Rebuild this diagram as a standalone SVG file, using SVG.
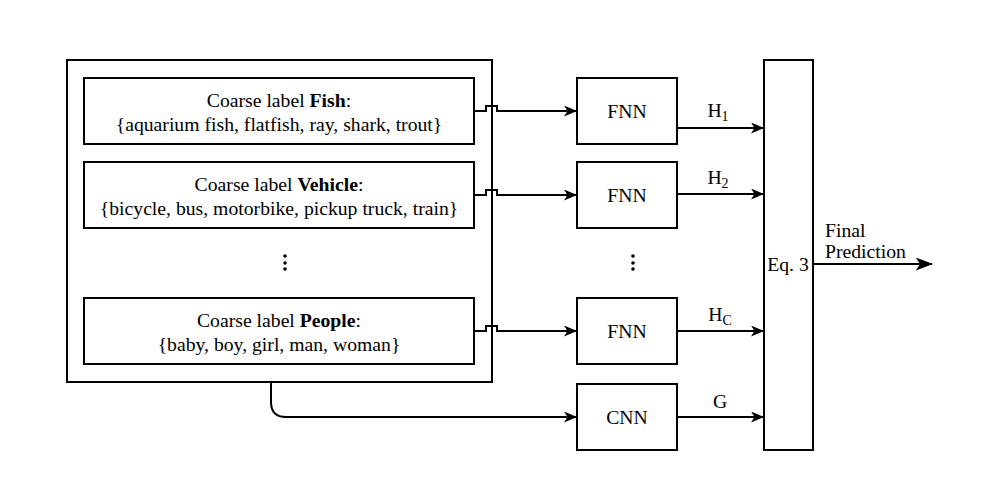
<svg xmlns="http://www.w3.org/2000/svg" width="987" height="491" viewBox="0 0 987 491">
<defs>
<style>
.box{fill:#fff;stroke:#000;stroke-width:2}
.t{font-family:"Liberation Serif","Times New Roman",serif;font-size:19.7px;fill:#000;text-anchor:middle}
.s{text-anchor:start}
.ln{fill:none;stroke:#000;stroke-width:2}
.dot{fill:#000}
</style>
<marker id="ah" viewBox="0 0 13 11" refX="12" refY="5.5" markerWidth="13" markerHeight="11" markerUnits="userSpaceOnUse" orient="auto">
<path d="M0,0 L13,5.5 L0,11 L3.5,5.5 Z" fill="#000"/>
</marker>
<marker id="ahb" viewBox="0 0 16 12" refX="15" refY="6" markerWidth="18" markerHeight="13" markerUnits="userSpaceOnUse" orient="auto">
<path d="M0,0 L16,6 L0,12 L4,6 Z" fill="#000"/>
</marker>
</defs>
<rect width="987" height="491" fill="#fff"/>
<g id="outer"><rect class="box" x="67" y="60" width="425" height="322"/></g>
<g id="fish"><rect class="box" x="84" y="78" width="390" height="66"/>
<text class="t" x="279" y="107">Coarse label <tspan font-weight="bold">Fish</tspan>:</text>
<text class="t" x="279" y="131">{aquarium fish, flatfish, ray, shark, trout}</text></g>
<g id="vehicle"><rect class="box" x="84" y="162" width="390" height="66"/>
<text class="t" x="279" y="191">Coarse label <tspan font-weight="bold">Vehicle</tspan>:</text>
<text class="t" x="279" y="215">{bicycle, bus, motorbike, pickup truck, train}</text></g>
<g id="dots1"><circle class="dot" cx="285" cy="256" r="1.8"/><circle class="dot" cx="285" cy="263" r="1.8"/><circle class="dot" cx="285" cy="269" r="1.8"/></g>
<g id="people"><rect class="box" x="84" y="298" width="390" height="66"/>
<text class="t" x="279" y="327">Coarse label <tspan font-weight="bold">People</tspan>:</text>
<text class="t" x="279" y="351">{baby, boy, girl, man, woman}</text></g>
<g id="fnn1"><rect class="box" x="577" y="78" width="100" height="66"/><text class="t" x="627" y="118">FNN</text></g>
<g id="fnn2"><rect class="box" x="577" y="162" width="100" height="66"/><text class="t" x="627" y="202">FNN</text></g>
<g id="dots2"><circle class="dot" cx="633" cy="256" r="1.8"/><circle class="dot" cx="633" cy="263" r="1.8"/><circle class="dot" cx="633" cy="269" r="1.8"/></g>
<g id="fnnc"><rect class="box" x="577" y="298" width="100" height="66"/><text class="t" x="627" y="338">FNN</text></g>
<g id="cnn"><rect class="box" x="577" y="384" width="100" height="66"/><text class="t" x="627" y="424">CNN</text></g>
<g id="eq3"><rect class="box" x="764" y="60" width="49" height="390"/><text class="t" x="788" y="271">Eq. 3</text></g>
<g id="connectors">
<path class="ln" marker-end="url(#ah)" d="M474,111 H486 V106 H497 V111 H576"/>
<path class="ln" marker-end="url(#ah)" d="M474,195 H486 V190 H497 V195 H576"/>
<path class="ln" marker-end="url(#ah)" d="M474,331 H486 V326 H497 V331 H576"/>
<path class="ln" marker-end="url(#ah)" d="M271,382 V402 Q271,417 286,417 H576"/>
<path class="ln" marker-end="url(#ah)" d="M677,128 H763"/>
<path class="ln" marker-end="url(#ah)" d="M677,194 H763"/>
<path class="ln" marker-end="url(#ah)" d="M677,331 H763"/>
<path class="ln" marker-end="url(#ah)" d="M677,417 H763"/>
<path class="ln" marker-end="url(#ahb)" d="M813,264 H932"/>
</g>
<g id="labels">
<text class="t" x="718" y="117">H<tspan font-size="14" dy="4">1</tspan></text>
<text class="t" x="718" y="184">H<tspan font-size="14" dy="4">2</tspan></text>
<text class="t" x="720" y="321">H<tspan font-size="14" dy="4">C</tspan></text>
<text class="t" x="720" y="408">G</text>
<text class="t s" x="825" y="237">Final</text>
<text class="t s" x="825" y="258">Prediction</text>
</g>
</svg>
